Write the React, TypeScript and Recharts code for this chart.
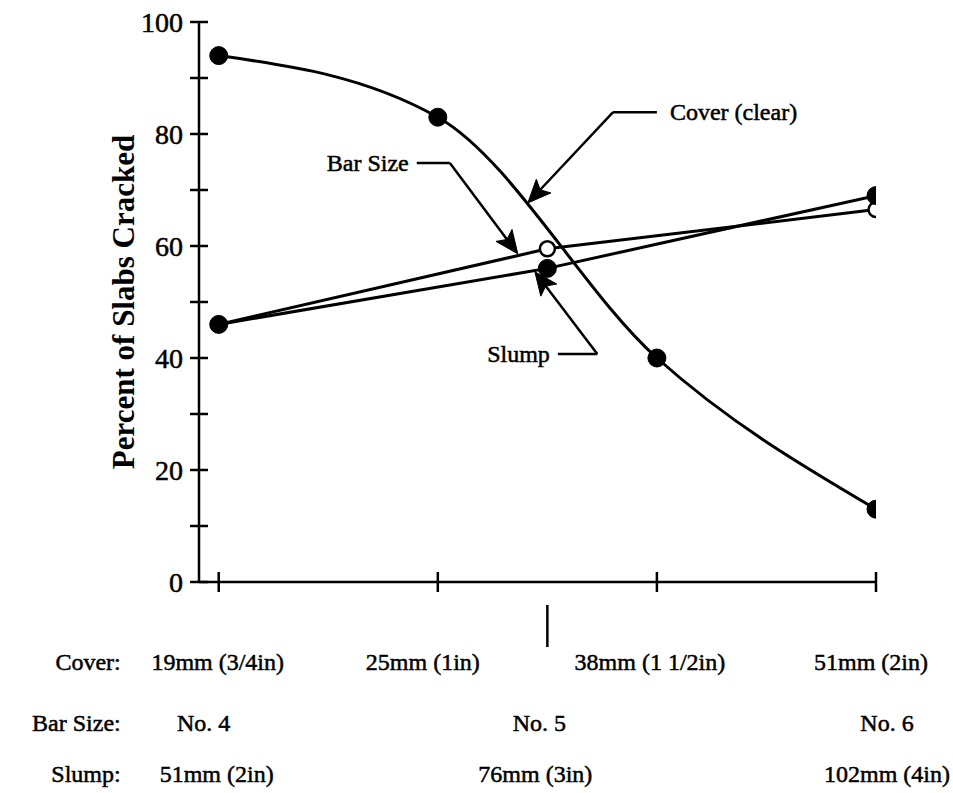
import React from 'react';
import { LineChart, Line, XAxis, YAxis, ReferenceLine } from 'recharts';

// ---------- data ----------
const coverX = [0, 1, 2, 3];
const coverPct = [94, 83, 40, 13];
const barX = [0, 1.5, 3];
const barPct = [46, 59.5, 66.5];
const slumpX = [0, 1.5, 3];
const slumpPct = [46, 56, 69];

const yTicks = [0, 10, 20, 30, 40, 50, 60, 70, 80, 90, 100];
const xTicks = [0, 1, 1.5, 2, 3];

const coverLabels = ['19mm (3/4in)', '25mm (1in)', '38mm (1 1/2in)', '51mm (2in)'];
const barLabels = ['No. 4', 'No. 5', 'No. 6'];
const slumpLabels = ['51mm (2in)', '76mm (3in)', '102mm (4in)'];
const rowTitles = ['Cover:', 'Bar Size:', 'Slump:'];
const yTitle = 'Percent of Slabs Cracked';

const coverName = 'Cover (clear)';
const barName = 'Bar Size';
const slumpName = 'Slump';

const coverData = coverX.map((x, i) => ({ x, y: coverPct[i] }));
const barData = barX.map((x, i) => ({ x, y: barPct[i] }));
const slumpData = slumpX.map((x, i) => ({ x, y: slumpPct[i] }));

// ---------- layout / style ----------
const FONT = '"Liberation Serif", "Times New Roman", serif';
const W = 953;
const H = 793;
const INK = { fill: '#000', stroke: '#000', strokeWidth: 0.5 };

// label horizontal nudges (px) for the three category rows
const coverDx = [-1, -15, -7, -5];
const barDx = [-15, -8, 11];
const slumpDx = [-2, -12, 11];
const ROW_Y = [80, 141, 192];

// annotation leader lines in data coordinates
const annotations = [
  { text: coverName, anchor: 'start', pts: [{ x: 2.0, y: 83.9 }, { x: 1.8, y: 83.9 }, { x: 1.411, y: 67.7 }] },
  { text: barName, anchor: 'end', pts: [{ x: 0.904, y: 74.8 }, { x: 1.055, y: 74.8 }, { x: 1.365, y: 58.6 }] },
  { text: slumpName, anchor: 'end', pts: [{ x: 1.548, y: 40.7 }, { x: 1.728, y: 40.7 }, { x: 1.443, y: 55.4 }] },
];

const YTick = (props: any) => {
  const { x, y, payload } = props;
  const v = payload.value;
  return (
    <g>
      <line x1={x - 9} x2={x + 9} y1={y} y2={y} stroke="#000" strokeWidth={2.5} />
      {v % 20 === 0 && (
        <text x={x - 16} y={y} textAnchor="end" dominantBaseline="central" fontFamily={FONT} fontSize={28} {...INK}>
          {v}
        </text>
      )}
    </g>
  );
};

const XTick = (props: any) => {
  const { x, y, payload } = props;
  const v = payload.value;
  const ci = coverX.indexOf(v);
  const bi = barX.indexOf(v);
  const si = slumpX.indexOf(v);
  const txt = { fontFamily: FONT, fontSize: 24, dominantBaseline: 'central' as const, ...INK };
  return (
    <g>
      {ci >= 0 && <line x1={x} x2={x} y1={y - 10} y2={y + 10} stroke="#000" strokeWidth={2.5} />}
      {v === 1.5 && <line x1={x} x2={x} y1={y + 23} y2={y + 65} stroke="#000" strokeWidth={2.5} />}
      {ci >= 0 && (
        <text x={x + coverDx[ci]} y={y + ROW_Y[0]} textAnchor="middle" {...txt}>
          {coverLabels[ci]}
        </text>
      )}
      {bi >= 0 && (
        <text x={x + barDx[bi]} y={y + ROW_Y[1]} textAnchor="middle" {...txt}>
          {barLabels[bi]}
        </text>
      )}
      {si >= 0 && (
        <text x={x + slumpDx[si]} y={y + ROW_Y[2]} textAnchor="middle" {...txt}>
          {slumpLabels[si]}
        </text>
      )}
      {v === 0 &&
        rowTitles.map((t, i) => (
          <text key={t} x={x - 98} y={y + ROW_Y[i]} textAnchor="end" {...txt}>
            {t}
          </text>
        ))}
    </g>
  );
};

const makeSegShape = (opts: { text?: string; anchor?: string; arrow?: boolean }) => (p: any) => {
  const { x1, y1, x2, y2 } = p;
  const dx = x2 - x1;
  const dy = y2 - y1;
  const len = Math.sqrt(dx * dx + dy * dy) || 1;
  const ux = dx / len;
  const uy = dy / len;
  const nx = -uy;
  const ny = ux;
  const L = 23;
  const Wd = 10;
  let head = null;
  if (opts.arrow) {
    const bx = x2 - L * ux;
    const by = y2 - L * uy;
    const pts = [
      [x2, y2],
      [bx + Wd * nx, by + Wd * ny],
      [x2 - (L - 5) * ux, y2 - (L - 5) * uy],
      [bx - Wd * nx, by - Wd * ny],
    ]
      .map((q) => q.join(','))
      .join(' ');
    head = <polygon points={pts} fill="#000" stroke="#000" strokeWidth={1} />;
  }
  const lineEndX = opts.arrow ? x2 - (L - 6) * ux : x2;
  const lineEndY = opts.arrow ? y2 - (L - 6) * uy : y2;
  return (
    <g>
      <line x1={x1} y1={y1} x2={lineEndX} y2={lineEndY} stroke="#000" strokeWidth={2.5} />
      {head}
      {opts.text && (
        <text
          x={opts.anchor === 'start' ? x1 + 13 : x1 - 8}
          y={y1}
          textAnchor={opts.anchor as any}
          dominantBaseline="central"
          fontFamily={FONT}
          fontSize={24}
          {...INK}
        >
          {opts.text}
        </text>
      )}
    </g>
  );
};

const OpenDot = (props: any) => {
  const { cx, cy, index } = props;
  if (cx == null || cy == null) return null;
  return <circle key={`o${index}`} cx={cx} cy={cy} r={7.5} fill="#fff" stroke="#000" strokeWidth={2.5} />;
};

const YLabel = (props: any) => {
  const vb = props.viewBox || {};
  const cx = (vb.x ?? 119) + 4;
  const cy = (vb.y ?? 22) + (vb.height ?? 560) / 2;
  return (
    <text
      x={cx}
      y={cy}
      transform={`rotate(-90, ${cx}, ${cy})`}
      textAnchor="middle"
      dominantBaseline="central"
      fontFamily={FONT}
      fontWeight="bold"
      fontSize={31}
      fill="#000"
    >
      {yTitle}
    </text>
  );
};

export default function App() {
  return (
    <div style={{ position: 'absolute', left: 0, top: 0, width: W, height: H, background: '#fff' }}>
      <LineChart width={W} height={H} margin={{ top: 22, right: 77, bottom: 11, left: 119 }}>
        <XAxis
          dataKey="x"
          type="number"
          domain={[-0.09, 3]}
          ticks={xTicks}
          interval={0}
          tickSize={0}
          tickMargin={0}
          tickLine={false}
          axisLine={{ stroke: '#000', strokeWidth: 2.5 }}
          tick={<XTick />}
          height={200}
          allowDataOverflow
        />
        <YAxis
          type="number"
          domain={[0, 100]}
          ticks={yTicks}
          interval={0}
          tickSize={0}
          tickMargin={0}
          tickLine={false}
          axisLine={{ stroke: '#000', strokeWidth: 2.5 }}
          tick={<YTick />}
          width={80}
          label={<YLabel />}
        />
        <Line
          data={coverData}
          dataKey="y"
          type="monotone"
          stroke="#000"
          strokeWidth={3}
          dot={{ r: 9, fill: '#000', stroke: '#000', strokeWidth: 1 }}
          isAnimationActive={false}
        />
        <Line
          data={barData}
          dataKey="y"
          type="linear"
          stroke="#000"
          strokeWidth={3}
          dot={<OpenDot />}
          isAnimationActive={false}
        />
        <Line
          data={slumpData}
          dataKey="y"
          type="linear"
          stroke="#000"
          strokeWidth={3}
          dot={{ r: 9, fill: '#000', stroke: '#000', strokeWidth: 1 }}
          isAnimationActive={false}
        />
        {annotations.map((a, i) => (
          <ReferenceLine
            key={`h${i}`}
            segment={[a.pts[0], a.pts[1]]}
            ifOverflow="visible"
            shape={makeSegShape({ text: a.text, anchor: a.anchor })}
          />
        ))}
        {annotations.map((a, i) => (
          <ReferenceLine
            key={`d${i}`}
            segment={[a.pts[1], a.pts[2]]}
            ifOverflow="visible"
            shape={makeSegShape({ arrow: true })}
          />
        ))}
      </LineChart>
    </div>
  );
}
